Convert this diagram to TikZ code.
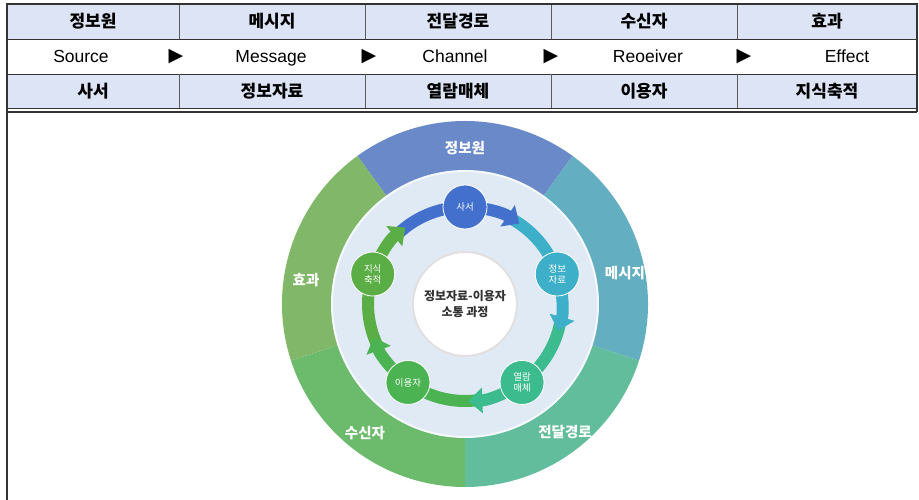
\documentclass[tikz,border=0pt]{standalone}
\usepackage{fontspec}
\setmainfont{Liberation Sans}
\newfontfamily\kr{Noto Sans CJK KR}
\newfontfamily\symfont{DejaVu Sans}
\usetikzlibrary{arrows.meta}

\definecolor{hdfill}{HTML}{DDE4F5}
\definecolor{rule}{HTML}{333333}
\definecolor{segsrc}{HTML}{6A89C9}
\definecolor{segmsg}{HTML}{63AFC1}
\definecolor{segchn}{HTML}{62BD9C}
\definecolor{segrcv}{HTML}{6CBA6C}
\definecolor{segeff}{HTML}{80B768}
\definecolor{diskfill}{HTML}{E0EAF5}
\definecolor{flowblue}{HTML}{4270CC}
\definecolor{flowteal}{HTML}{3DAFC8}
\definecolor{flowmint}{HTML}{3BBB8E}
\definecolor{flowgreen}{HTML}{4BB352}
\definecolor{flowlime}{HTML}{5BAE45}

\begin{document}
\begin{tikzpicture}[x=1pt, y=1pt,
  head/.style={font=\kr\bfseries\fontsize{17}{20}\selectfont},
  eng/.style={anchor=base, font=\fontsize{17.5}{20}\selectfont},
  tri/.style={font=\symfont\fontsize{19}{20}\selectfont},
  seglbl/.style={text=white, font=\kr\bfseries\fontsize{14.5}{16}\selectfont},
  stage/.style={circle, draw=white, line width=0.8pt, minimum size=44pt,
    inner sep=0pt, text=white, align=center,
    font=\kr\fontsize{9.5}{11}\selectfont},
  band/.style={line width=12pt},
  flowhead/.style={-{Triangle[length=14pt, width=25pt]}}]

\useasboundingbox (0,0) rectangle (919,500);

% table
\fill[hdfill] (7,461) rectangle (917,496);
\fill[hdfill] (7,391) rectangle (917,426);
\draw[rule, line width=0.7pt] (7,461) -- (917,461);
\draw[rule, line width=0.7pt] (7,426) -- (917,426);
\draw[rule, line width=0.7pt] (7,391.5) -- (917,391.5);
\foreach \x in {179,365,551,737} {
  \draw[rule!80, line width=0.7pt] (\x,496) -- (\x,461);
  \draw[rule!80, line width=0.7pt] (\x,426) -- (\x,391.5);
}
\draw[rule, line width=2pt] (7,0) -- (7,496) -- (917,496) -- (917,388);
\draw[rule, line width=2pt] (7,388) -- (917,388);

\foreach \x/\t [count=\i] in {93/정보원, 272/메시지, 458/전달경로, 644/수신자, 827/효과}
  \node[head] (top\i) at (\x,478.5) {\t};
\foreach \x/\t [count=\i] in {93/사서, 272/정보자료, 458/열람매체, 644/이용자, 827/지식축적}
  \node[head] (bot\i) at (\x,408.5) {\t};

\node[eng] (source) at (81,437.5) {Source};
\node[eng] (message) at (271,437.5) {Message};
\node[eng] (channel) at (455,437.5) {Channel};
\node[eng] (receiver) at (648,437.5) {Reoeiver};
\node[eng] (effect) at (847,437.5) {Effect};
\foreach \x [count=\i] in {176,369,551,744}
  \node[tri] (go\i) at (\x,443.5) {▶};

% cycle
\begin{scope}[shift={(465,196)}]
  \foreach \a/\c in {54/segsrc, -18/segmsg, -90/segchn, -162/segrcv, 126/segeff}
    \fill[\c] (\a:183pt) arc[start angle=\a, delta angle=72, radius=183pt]
      -- ({\a+72}:133pt) arc[start angle=\a+72, delta angle=-72, radius=133pt] -- cycle;
  \fill[diskfill, draw=white!70!diskfill, line width=2pt] (0,0) circle[radius=133pt];

  \node[seglbl] (lsrc) at (0,156) {정보원};
  \node[seglbl] (lmsg) at (160,31) {메시지};
  \node[seglbl] (lchn) at (100,-128) {전달경로};
  \node[seglbl] (lrcv) at (-100,-129) {수신자};
  \node[seglbl] (leff) at (-159,24) {효과};

  \coordinate (p1) at (90:97pt);
  \coordinate (p2) at (18:97pt);
  \coordinate (p3) at (-54:97pt);
  \coordinate (p4) at (-126:97pt);
  \coordinate (p5) at (-198:97pt);
  \coordinate (m1) at (64:97pt);
  \coordinate (m2) at (-8:97pt);
  \coordinate (m3) at (-80:97pt);
  \coordinate (m4) at (-152:97pt);
  \coordinate (m5) at (-224:97pt);

  \draw[band, flowteal] (m1) arc[start angle=64, end angle=18, radius=97pt];
  \draw[band, flowblue, flowhead] (p1) arc[start angle=90, end angle=56, radius=97pt];
  \draw[band, flowmint] (m2) arc[start angle=-8, end angle=-54, radius=97pt];
  \draw[band, flowteal, flowhead] (p2) arc[start angle=18, end angle=-16, radius=97pt];
  \draw[band, flowgreen] (m3) arc[start angle=-80, end angle=-126, radius=97pt];
  \draw[band, flowmint, flowhead] (p3) arc[start angle=-54, end angle=-88, radius=97pt];
  \draw[band, flowlime] (m4) arc[start angle=-152, end angle=-198, radius=97pt];
  \draw[band, flowgreen, flowhead] (p4) arc[start angle=-126, end angle=-160, radius=97pt];
  \draw[band, flowblue] (m5) arc[start angle=-224, end angle=-270, radius=97pt];
  \draw[band, flowlime, flowhead] (p5) arc[start angle=-198, end angle=-232, radius=97pt];

  \node[stage, fill=flowblue] (saseo) at (p1) {사서};
  \node[stage, fill=flowteal] (jaryo) at (p2) {정보\\자료};
  \node[stage, fill=flowmint] (maeche) at (p3) {열람\\매체};
  \node[stage, fill=flowgreen] (user) at (p4) {이용자};
  \node[stage, fill=flowlime] (chukjeok) at (p5) {지식\\축적};

  \node[circle, fill=white, draw=black!12, line width=2pt, minimum size=104pt,
    align=center, text=black!80, font=\kr\bfseries\fontsize{12}{16}\selectfont]
    (core) at (0,0) {정보자료-이용자\\소통 과정};
\end{scope}
\end{tikzpicture}
\end{document}
